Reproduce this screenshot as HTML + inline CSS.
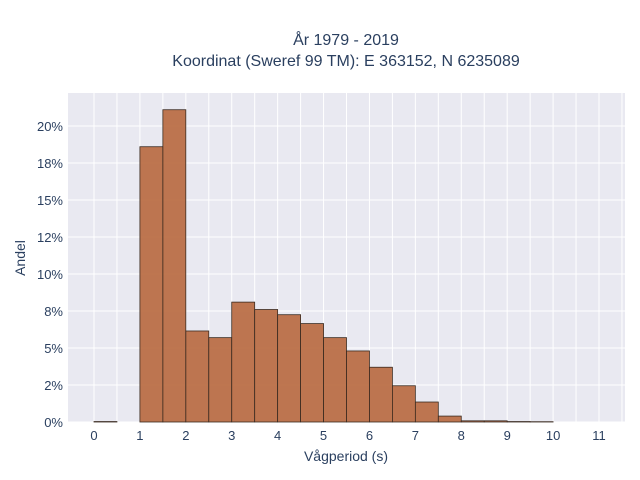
<!DOCTYPE html>
<html><head><meta charset="utf-8"><style>
body{margin:0;background:#fff;}
svg{display:block;font-family:"Liberation Sans",sans-serif;}
</style></head><body>
<svg id="chart" width="640" height="480">
<text x="346" y="45" text-anchor="middle" font-size="16" fill="#2a3f5f">År 1979 - 2019</text>
<text x="346" y="66" text-anchor="middle" font-size="16" fill="#2a3f5f">Koordinat (Sweref 99 TM): E 363152, N 6235089</text>
<rect x="68" y="93" width="557" height="329" fill="#e9e9f1"/>
<g id="grid"></g><g id="bars"></g><g id="axes"></g>
<text x="346" y="461" text-anchor="middle" font-size="14" fill="#2a3f5f">Vågperiod (s)</text>
<text transform="translate(25,258) rotate(-90)" text-anchor="middle" font-size="14" fill="#2a3f5f">Andel</text>
</svg>
<script>
const binStarts=[0,0.5,1,1.5,2,2.5,3,3.5,4,4.5,5,5.5,6,6.5,7,7.5,8,8.5,9,9.5,10];
const shares=[0.03,0,18.6,21.1,6.15,5.7,8.1,7.6,7.25,6.65,5.7,4.8,3.7,2.45,1.35,0.4,0.08,0.08,0.03,0.02,0];
const xTicks=[0,1,2,3,4,5,6,7,8,9,10,11];
const yTicks=[0,2.5,5,7.5,10,12.5,15,17.5,20];
const yTickLabels=["0%","2%","5%","8%","10%","12%","15%","18%","20%"];
const binWidth=0.5;
const X=v=>94+v*(599-94)/11, Y=v=>422-v*14.8;
const NS="http://www.w3.org/2000/svg";
function mk(p,t,a){const e=document.createElementNS(NS,t);for(const k in a)e.setAttribute(k,a[k]);p.appendChild(e);return e;}
const grid=document.getElementById('grid'),bars=document.getElementById('bars'),axes=document.getElementById('axes');
for(let v=0;v<=11.5;v+=0.5){const l=mk(grid,'line',{x1:X(v),x2:X(v),y1:93,y2:422,stroke:'#fff','stroke-width':1});

}
yTicks.forEach((v,i)=>{const l=mk(grid,'line',{x1:68,x2:625,y1:Y(v),y2:Y(v),stroke:'#fff','stroke-width':1});


const t=mk(axes,'text',{x:63,y:Y(v)+5,'text-anchor':'end','font-size':13,fill:'#2a3f5f'});t.textContent=yTickLabels[i];

});
xTicks.forEach(v=>{const t=mk(axes,'text',{x:X(v),y:440,'text-anchor':'middle','font-size':13,fill:'#2a3f5f'});t.textContent=v;

});
binStarts.forEach((s,i)=>{if(shares[i]<=0)return;const r=mk(bars,'rect',{x:X(s),y:Y(shares[i]),width:X(s+binWidth)-X(s),height:Y(0)-Y(shares[i]),fill:'#b8683e','fill-opacity':0.9,stroke:'#3a2a20','stroke-width':0.8});

});
</script>
</body></html>
